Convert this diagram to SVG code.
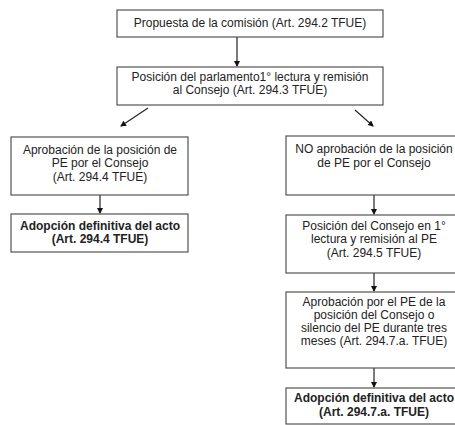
<svg xmlns="http://www.w3.org/2000/svg" width="455" height="425" viewBox="0 0 455 425">
<style>
.box{fill:#fff;stroke:#444;stroke-width:1.1}
.t{font-family:"Liberation Sans",Arial,sans-serif;font-size:12px;fill:#222;text-anchor:middle}
.b{font-weight:bold}
.c{stroke:#222;stroke-width:1.2;fill:none}
</style>
<defs>
<marker id="ah" markerWidth="6" markerHeight="6" refX="5" refY="3" orient="auto" markerUnits="userSpaceOnUse">
<path d="M0,0 L6,3 L0,6 Z" fill="#111"/>
</marker>
</defs>
<rect width="455" height="425" fill="#fff"/>
<g id="connectors">
<line class="c" x1="237" y1="37" x2="237" y2="66" marker-end="url(#ah)"/>
<line class="c" x1="148" y1="108" x2="121" y2="126" marker-end="url(#ah)"/>
<line class="c" x1="355" y1="110" x2="373" y2="126" marker-end="url(#ah)"/>
<line class="c" x1="100" y1="195" x2="100" y2="213" marker-end="url(#ah)"/>
<line class="c" x1="374" y1="195" x2="374" y2="214" marker-end="url(#ah)"/>
<line class="c" x1="374" y1="273" x2="374" y2="291" marker-end="url(#ah)"/>
<line class="c" x1="374" y1="368" x2="374" y2="387" marker-end="url(#ah)"/>
</g>
<g id="n1">
<rect class="box" x="117" y="10" width="266" height="27"/>
<text class="t" x="250" y="27">Propuesta de la comisión (Art. 294.2 TFUE)</text>
</g>
<g id="n2">
<rect class="box" x="117" y="67" width="266" height="38"/>
<text class="t" x="250" y="81">Posición del parlamento1° lectura y remisión</text>
<text class="t" x="250" y="94">al Consejo (Art. 294.3 TFUE)</text>
</g>
<g id="n3">
<rect class="box" x="11" y="137" width="177" height="58"/>
<text class="t" x="100" y="154">Aprobación de la posición de</text>
<text class="t" x="100" y="167">PE por el Consejo</text>
<text class="t" x="100" y="181">(Art. 294.4 TFUE)</text>
</g>
<g id="n4">
<rect class="box" x="11" y="214" width="177" height="38"/>
<text class="t b" x="100" y="230">Adopción definitiva del acto</text>
<text class="t b" x="100" y="243">(Art. 294.4 TFUE)</text>
</g>
<g id="n5">
<rect class="box" x="286" y="136" width="178" height="59"/>
<text class="t" x="374" y="153">NO aprobación de la posición</text>
<text class="t" x="374" y="167">de PE por el Consejo</text>
</g>
<g id="n6">
<rect class="box" x="286" y="215" width="178" height="58"/>
<text class="t" x="374" y="230">Posición del Consejo en 1°</text>
<text class="t" x="374" y="243">lectura y remisión al PE</text>
<text class="t" x="374" y="257">(Art. 294.5 TFUE)</text>
</g>
<g id="n7">
<rect class="box" x="286" y="292" width="178" height="76"/>
<text class="t" x="374" y="306">Aprobación por el PE de la</text>
<text class="t" x="374" y="319">posición del Consejo o</text>
<text class="t" x="374" y="332">silencio del PE durante tres</text>
<text class="t" x="374" y="345">meses (Art. 294.7.a. TFUE)</text>
</g>
<g id="n8">
<rect class="box" x="286" y="388" width="178" height="36"/>
<text class="t b" x="374" y="402">Adopción definitiva del acto</text>
<text class="t b" x="374" y="416">(Art. 294.7.a. TFUE)</text>
</g>
</svg>
